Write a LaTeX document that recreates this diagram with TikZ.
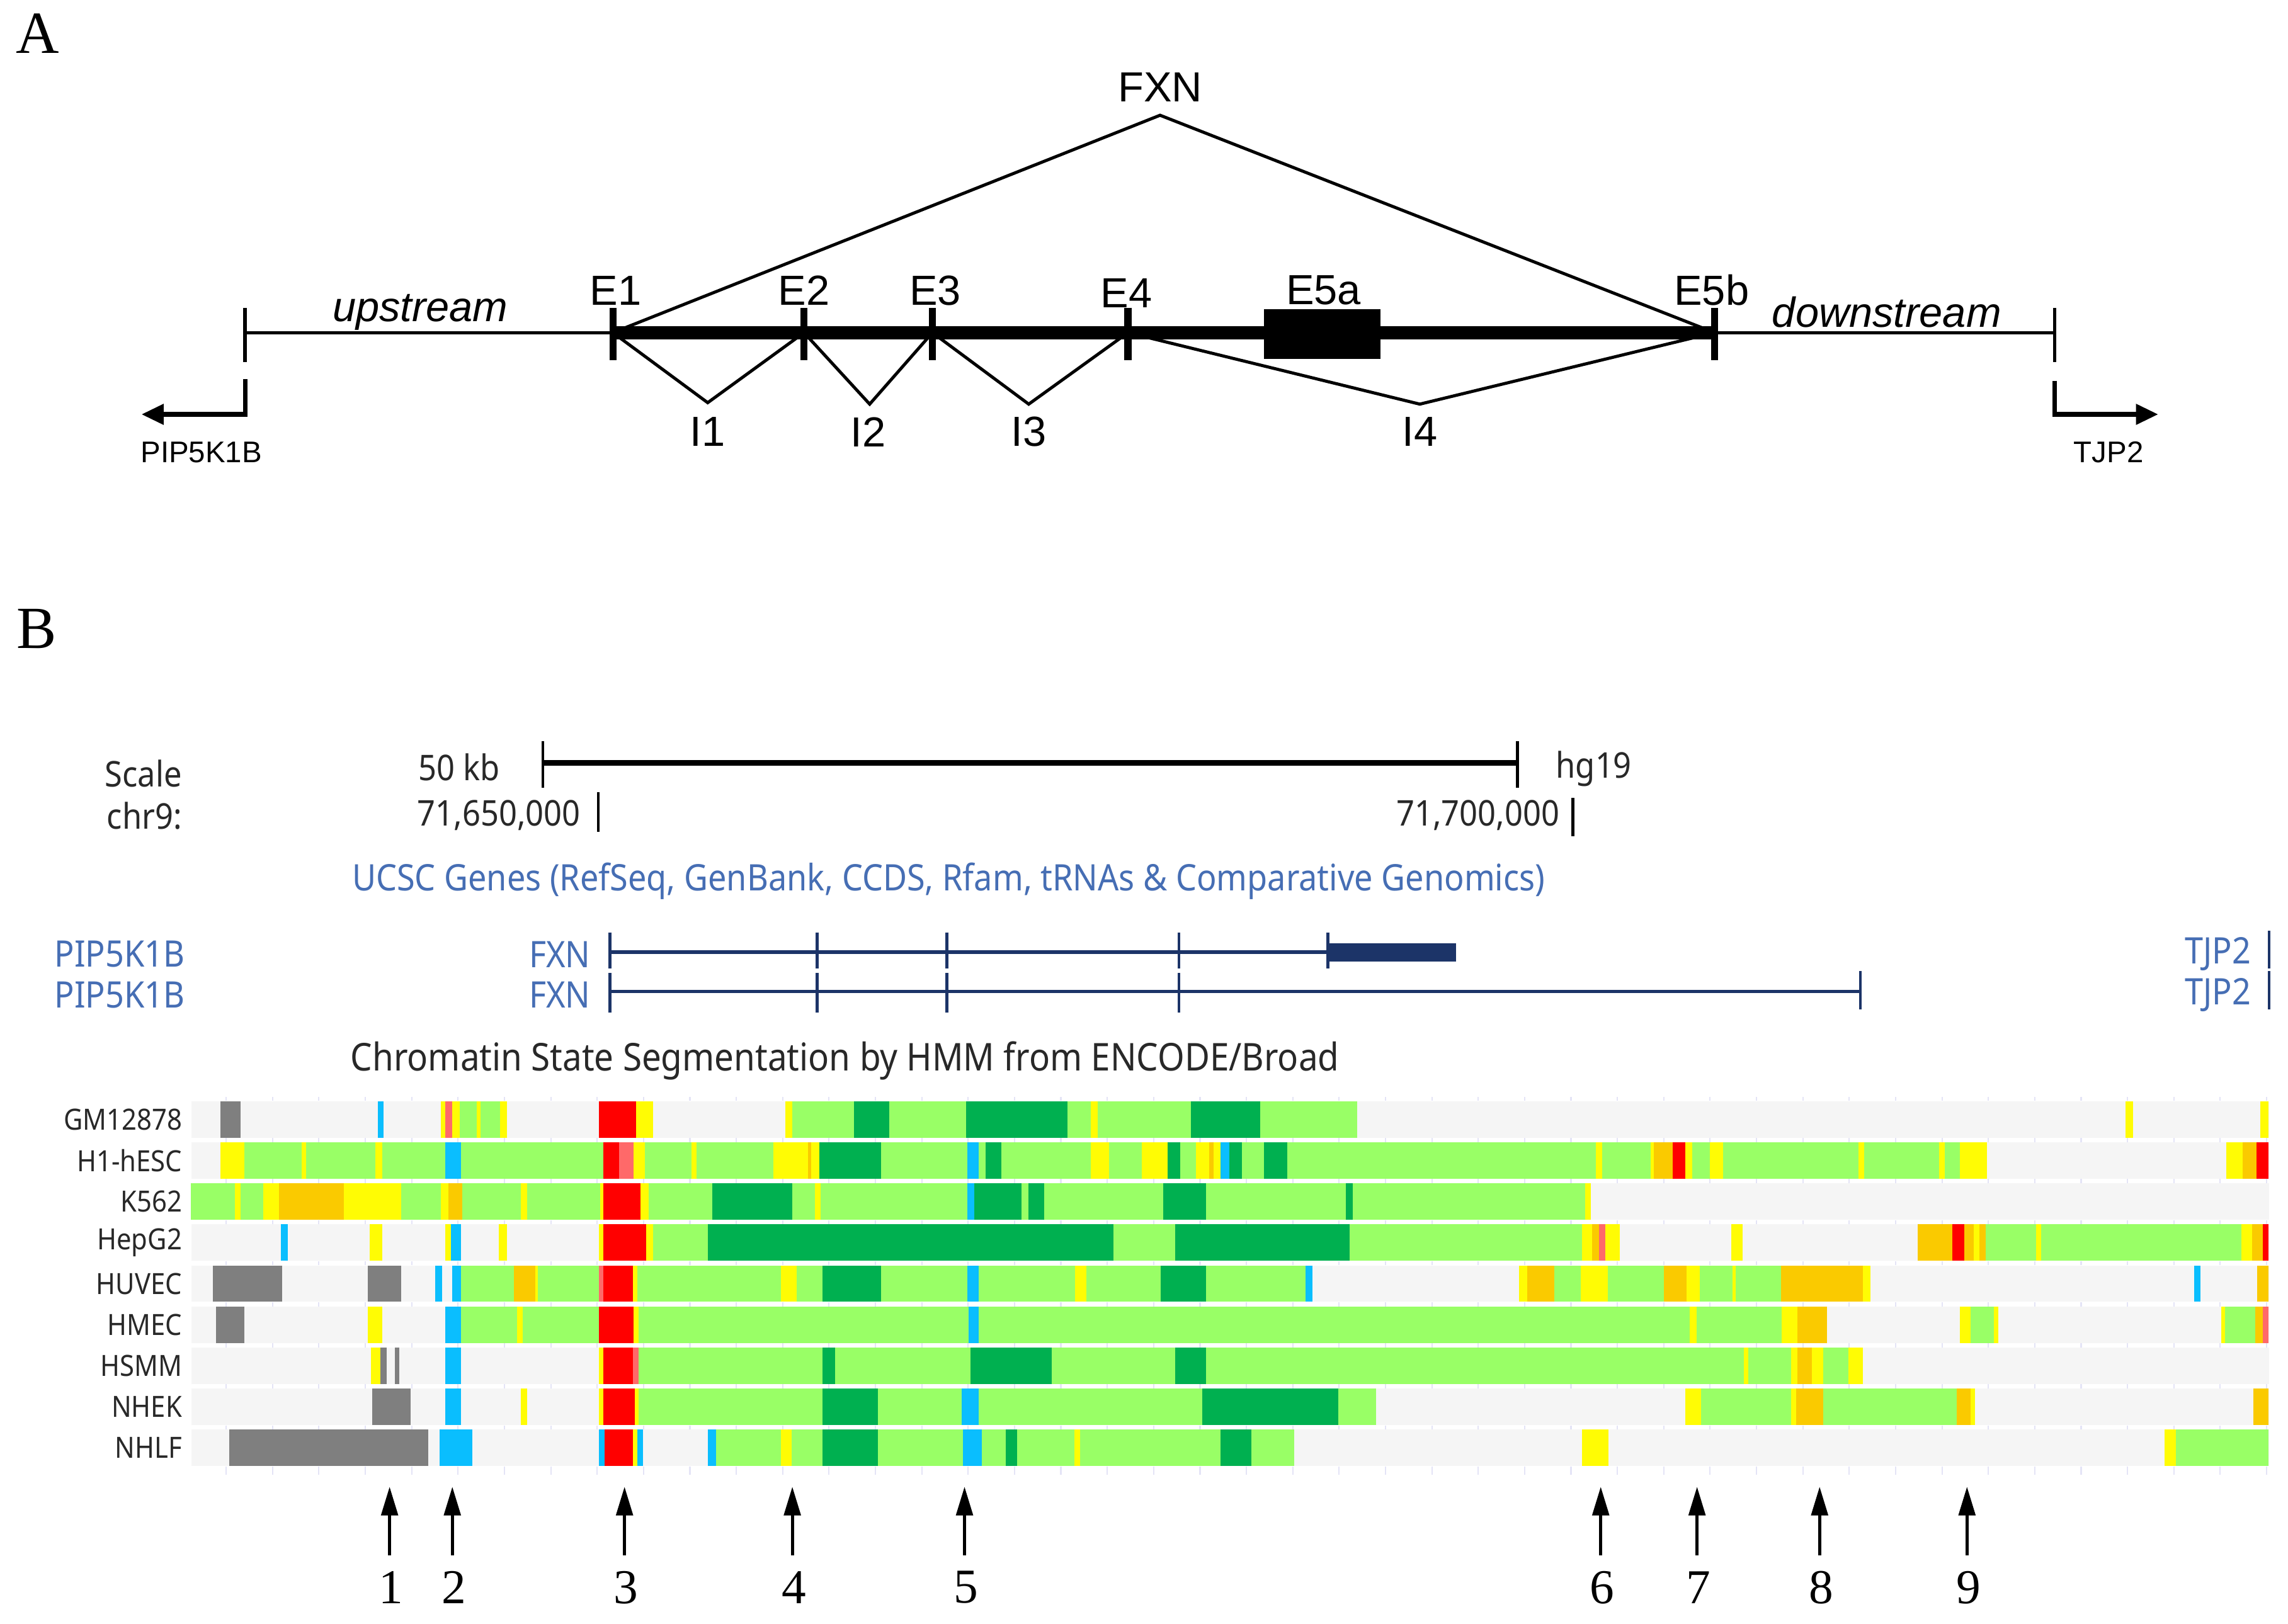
\documentclass[tikz,border=0pt]{standalone}
\usepackage{fontspec}
\setmainfont{Liberation Serif}
\newfontfamily\arialf{Liberation Sans}
\newfontfamily\ucscf{Noto Sans}[FakeStretch=0.9]
\usetikzlibrary{arrows.meta}
\definecolor{bgc}{RGB}{245,245,245}
\definecolor{rep}{RGB}{127,127,127}
\definecolor{wtx}{RGB}{153,255,102}
\definecolor{stx}{RGB}{0,176,80}
\definecolor{wen}{RGB}{255,252,4}
\definecolor{sen}{RGB}{250,202,0}
\definecolor{apr}{RGB}{255,0,0}
\definecolor{wpr}{RGB}{255,105,105}
\definecolor{ins}{RGB}{10,190,254}
\definecolor{ucblue}{RGB}{70,110,180}
\definecolor{navy}{RGB}{28,52,104}
\definecolor{txtg}{RGB}{40,40,40}
\definecolor{tickc}{RGB}{228,228,246}
\newcommand\trackrow[2]{%
  \foreach \a/\b/\c in {#2} {\fill[fill=\c] (\a,{754.7+28.15*#1}) rectangle (\b,{779.7+28.15*#1});}%
}
\begin{document}
\begin{tikzpicture}[x=0.02317cm,y=-0.02317cm,
  panel/.style={font=\fontsize{27pt}{30pt}\selectfont, inner sep=0pt},
  lblA/.style={font=\arialf\fontsize{19pt}{22pt}\selectfont, inner sep=0pt},
  lbliA/.style={font=\arialf\itshape\fontsize{19pt}{22pt}\selectfont, inner sep=0pt},
  smallA/.style={font=\arialf\fontsize{13.5pt}{16pt}\selectfont, inner sep=0pt},
  thinline/.style={line width=1.4pt},
  thickline/.style={line width=5.9pt},
  exontick/.style={line width=3.2pt},
  endtick/.style={line width=1.6pt},
  tri/.style={line width=1.4pt, line join=miter},
  bent/.style={line width=2pt, -{Triangle[length=10pt,width=9pt]}},
  ub/.style={font=\ucscf\fontsize{16pt}{19pt}\selectfont, inner sep=0pt, text=txtg},
  ubb/.style={font=\ucscf\fontsize{16.5pt}{19pt}\selectfont, inner sep=0pt},
  ttl/.style={font=\ucscf\fontsize{17.3pt}{20pt}\selectfont, inner sep=0pt},
  cell/.style={font=\ucscf\fontsize{13.2pt}{16pt}\selectfont, inner sep=0pt, text=txtg, anchor=east},
  gname/.style={font=\ucscf\fontsize{16.5pt}{19pt}\selectfont, inner sep=0pt, text=ucblue, anchor=east},
  geneline/.style={draw=navy, line width=1.6pt},
  genetick/.style={draw=navy, line width=1.3pt},
  scaleline/.style={line width=1.3pt, draw=black},
  num/.style={font=\fontsize{22pt}{26pt}\selectfont, inner sep=0pt},
  marker/.style={line width=1.4pt, -{Triangle[length=13pt,width=7.5pt]}}
]
\useasboundingbox (0,0) rectangle (1568,1113);
\fill[white] (0,0) rectangle (1568,1113);

%%%%%%%%%%%% Panel A
\node[panel] (labA) at (26,23) {A};
\coordinate (L) at (168,228);
\coordinate (R) at (1408,228);
\coordinate (x1) at (420,228);
\coordinate (x2) at (551,228);
\coordinate (x3) at (639,228);
\coordinate (x4) at (773,228);
\coordinate (x5) at (1175,228);
\coordinate (apex) at (795,79);
\coordinate (v1) at (485,276);
\coordinate (v2) at (596,277);
\coordinate (v3) at (705,277);
\coordinate (v4) at (973,277);
\draw[thinline] (L) -- (R);
\draw[thickline] (x1) -- (x5);
\draw[endtick] (168,211) -- (168,248);
\draw[endtick] (1408,211) -- (1408,248);
\foreach \xx in {420,551,639,773,1175} \draw[exontick] (\xx,211) -- (\xx,247);
\fill (866,212) rectangle (946,246);
\draw[tri] (x1) -- (apex) -- (x5);
\draw[tri] (x1) -- (v1) -- (x2);
\draw[tri] (x2) -- (v2) -- (x3);
\draw[tri] (x3) -- (v3) -- (x4);
\draw[tri] (x4) -- (v4) -- (x5);
\coordinate (pl0) at (168,260);
\coordinate (pl1) at (168,284);
\coordinate (pl2) at (97,284);
\coordinate (pr0) at (1408,261);
\coordinate (pr1) at (1408,284);
\coordinate (pr2) at (1479,284);
\draw[bent] (pl0) -- (pl1) -- (pl2);
\draw[bent] (pr0) -- (pr1) -- (pr2);
\node[lblA] (fxnA) at (795,60) {FXN};
\node[lblA] (e1) at (422,199) {E1};
\node[lblA] (e2) at (551,199) {E2};
\node[lblA] (e3) at (641,199) {E3};
\node[lblA] (e4) at (772,201) {E4};
\node[lblA] (e5a) at (907,199) {E5a};
\node[lblA] (e5b) at (1173,199) {E5b};
\node[lbliA] (up) at (288,214) {upstream};
\node[lbliA] (down) at (1293,214) {downstream};
\node[lblA] (i1) at (485,296) {I1};
\node[lblA] (i2) at (595,296) {I2};
\node[lblA] (i3) at (705,296) {I3};
\node[lblA] (i4) at (973,296) {I4};
\node[smallA] (pipA) at (138,310) {PIP5K1B};
\node[smallA] (tjpA) at (1445,310) {TJP2};

%%%%%%%%%%%% Panel B
\node[panel] (labB) at (25,431) {B};
% scale
\node[ub, anchor=east] (scl) at (125,530) {Scale};
\node[ub, anchor=east] (chr) at (125,559) {chr9:};
\node[ub, anchor=east] (kb) at (343,526) {50 kb};
\node[ub, anchor=west] (hg) at (1066,527) {hg19};
\node[ub, anchor=east] (c1) at (398,559) {71,650,000};
\node[ub, anchor=east] (c2) at (1069,559) {71,700,000};
\coordinate (sb1) at (372,523);
\coordinate (sb2) at (1040,523);
\draw[line width=2.6pt] (sb1) -- (sb2);
\draw[scaleline] (372,508) -- (372,540);
\draw[scaleline] (1040,508) -- (1040,540);
\draw[scaleline] (410,543) -- (410,570);
\draw[scaleline] (1078,547) -- (1078,573);
% genes
\node[ubb, text=ucblue, anchor=west] (ucsc) at (241,604) {UCSC Genes (RefSeq, GenBank, CCDS, Rfam, tRNAs \& Comparative Genomics)};
\node[gname] (pip1) at (127,654) {PIP5K1B};
\node[gname] (pip2) at (127,682) {PIP5K1B};
\node[gname] (fxn1) at (405,654) {FXN};
\node[gname] (fxn2) at (405,682) {FXN};
\node[gname] (tjp1) at (1543,654) {TJP2};
\node[gname] (tjp2) at (1543,682) {TJP2};
\coordinate (g1s) at (418,652.5);
\coordinate (g1e) at (910,652.5);
\coordinate (g2s) at (418,679.6);
\coordinate (g2e) at (1275,679.6);
\draw[geneline] (g1s) -- (g1e);
\draw[geneline] (g2s) -- (g2e);
\foreach \xx in {418,560,649,808,910} \draw[genetick] (\xx,639) -- (\xx,664);
\foreach \xx in {418,560,649,808} \draw[genetick] (\xx,667) -- (\xx,694);
\draw[genetick] (1275,665.5) -- (1275,692);
\draw[genetick] (1555,638) -- (1555,664);
\draw[genetick] (1555,665.5) -- (1555,692);
\fill[navy] (910,646.5) rectangle (998,659);
% chromatin
\node[ttl, text=txtg, anchor=west] (hmm) at (240,727) {Chromatin State Segmentation by HMM from ENCODE/Broad};
\foreach \nm [count=\i from 0] in {GM12878,H1-hESC,K562,HepG2,HUVEC,HMEC,HSMM,NHEK,NHLF}
  \node[cell] (cell\i) at (125,{767.2+28.15*\i}) {\nm};
\foreach \i in {0,...,8} \fill[bgc] (131,{754.7+28.15*\i}) rectangle (1555,{779.7+28.15*\i});
\foreach \g in {0,...,9} \foreach \k in {0,...,44}
  \draw[tickc, line width=0.6pt] ({155+31.78*\k},{751.8+28.15*\g}) -- ++(0,2.8);
\foreach \k in {0,...,44}
  \draw[tickc, line width=0.6pt] ({155+31.78*\k},{1007}) -- ++(0,4);

\trackrow{0}{151.1/165/rep, 258.9/262.8/ins, 302.1/305.2/wen, 305.2/310.1/wpr, 310.1/315.2/wen, 315.2/326.7/wtx, 326.7/329.1/wen, 329.1/342.9/wtx, 342.9/347.5/wen, 410.5/435.9/apr, 435.9/447.5/wen, 538.4/543/wen, 543/585.4/wtx, 585.4/609.3/stx, 609.3/662.2/wtx, 662.2/731.6/stx, 731.6/747.7/wtx, 747.7/752.4/wen, 752.4/816.3/wtx, 816.3/863.8/stx, 863.8/930.1/wtx, 1456.8/1462/wen, 1549.2/1554.8/wen}

\trackrow{1}{151.1/167.3/wen, 167.3/206.6/wtx, 206.6/209.6/wen, 209.6/257.4/wtx, 257.4/262/wen, 262/305.2/wtx, 305.2/316/ins, 316/413.6/wtx, 413.6/424.4/apr, 424.4/434.4/wpr, 434.4/442.1/wen, 442.1/473.7/wtx, 473.7/477.5/wen, 477.5/529.9/wtx, 529.9/553.8/wen, 553.8/556.1/sen, 556.1/561.5/wen, 561.5/603.9/stx, 603.9/663/wtx, 663/670.7/ins, 670.7/675.3/wtx, 675.3/686.1/stx, 686.1/747.7/wtx, 747.7/760.1/wen, 760.1/782.4/wtx, 782.4/800.1/wen, 800.1/808.6/stx, 808.6/819.4/wtx, 819.4/828.6/wen, 828.6/831.7/sen, 831.7/836.3/wen, 836.3/842.5/ins, 842.5/851/stx, 851/866.2/wtx, 866.2/882.3/stx, 882.3/1093.5/wtx, 1093.5/1097.8/wen, 1097.8/1131/wtx, 1131/1133.3/wen, 1133.3/1146.4/sen, 1146.4/1154.9/apr, 1154.9/1159.5/wen, 1159.5/1171.8/wtx, 1171.8/1181/wen, 1181/1273.5/wtx, 1273.5/1277.4/wen, 1277.4/1329/wtx, 1329/1332.8/wen, 1332.8/1343.1/wtx, 1343.1/1361.5/wen, 1525.8/1536.8/wen, 1536.8/1546.3/sen, 1546.3/1554.8/apr}

\trackrow{2}{130.7/161.1/wtx, 161.1/165/wen, 165/180.4/wtx, 180.4/191.1/wen, 191.1/235.8/sen, 235.8/275.1/wen, 275.1/302.1/wtx, 302.1/307.5/wen, 307.5/316.7/sen, 316.7/356.8/wtx, 356.8/361.4/wen, 361.4/411.3/wtx, 411.3/413.6/wen, 413.6/439/apr, 439/444.4/wen, 444.4/488.3/wtx, 488.3/543/stx, 543/558.4/wtx, 558.4/562.3/wen, 562.3/663/wtx, 663/667.6/ins, 667.6/700/stx, 700/704.6/wtx, 704.6/715.4/stx, 715.4/797/wtx, 797/826.3/stx, 826.3/922.4/wtx, 922.4/927/stx, 927/1086.5/wtx, 1086.5/1090.4/wen}

\trackrow{3}{192.7/197.3/ins, 253.5/262/wen, 305.2/309/wen, 309/316/ins, 341.9/347.5/wen, 410.5/413.6/wen, 413.6/442.9/apr, 442.9/447.5/wen, 447.5/485.2/wtx, 485.2/763.1/stx, 763.1/805.5/wtx, 805.5/924.7/stx, 924.7/1084.2/wtx, 1084.2/1091/wen, 1091/1096/sen, 1096/1100/wpr, 1100/1110/wen, 1186.4/1194.2/wen, 1314.4/1338/sen, 1338/1346/apr, 1346/1352.7/sen, 1352.7/1356.3/wen, 1356.3/1360.7/sen, 1360.7/1395.2/wtx, 1395.2/1398.9/wen, 1398.9/1536/wtx, 1536/1543.4/wen, 1543.4/1550.7/sen, 1550.7/1554.8/apr}

\trackrow{4}{145.7/193.4/rep, 252/275.1/rep, 298.2/302.9/ins, 309.8/316/ins, 316/352.2/wtx, 352.2/366.8/sen, 366.8/368.5/wen, 368.5/410.5/wtx, 410.5/413.6/wpr, 413.6/433.6/apr, 433.6/436.7/wen, 436.7/535.3/wtx, 535.3/546.1/wen, 546.1/563.8/wtx, 563.8/603.9/stx, 603.9/663/wtx, 663/670.7/ins, 670.7/736.9/wtx, 736.9/744.7/wen, 744.7/795.5/wtx, 795.5/826.3/stx, 826.3/894.7/wtx, 894.7/899.3/ins, 1041/1046.5/wen, 1046.5/1065/sen, 1065/1083.4/wtx, 1083.4/1101.7/wen, 1101.7/1140.2/wtx, 1140.2/1155.6/sen, 1155.6/1164.9/wen, 1164.9/1187.2/wtx, 1187.2/1189.5/wen, 1189.5/1220.4/wtx, 1220.4/1276.6/sen, 1276.6/1282/wen, 1503.8/1508.2/ins, 1547/1554.8/sen}

\trackrow{5}{148/167.3/rep, 252/262/wen, 305.2/316/ins, 316/354.5/wtx, 354.5/358.3/wen, 358.3/410.5/wtx, 410.5/434.4/apr, 434.4/437.5/wen, 437.5/663.8/wtx, 663.8/670.7/ins, 670.7/1158/wtx, 1158/1162.6/wen, 1162.6/1221.1/wtx, 1221.1/1231.9/wen, 1231.9/1252/sen, 1343.1/1350.5/wen, 1350.5/1366.6/wtx, 1366.6/1369.5/wen, 1522.1/1525/wen, 1525/1545.6/wtx, 1545.6/1550.7/sen, 1550.7/1554.8/wpr}

\trackrow{6}{254.3/260.5/wen, 260.5/264.8/rep, 270.5/273.6/rep, 305.2/316/ins, 410.5/413.6/wen, 413.6/433.6/apr, 433.6/437.5/wpr, 437.5/563.8/wtx, 563.8/572.3/stx, 572.3/665.3/wtx, 665.3/720.8/stx, 720.8/805.5/wtx, 805.5/826.3/stx, 826.3/1194.9/wtx, 1194.9/1198/wen, 1198/1227.3/wtx, 1227.3/1231.9/wen, 1231.9/1241.9/sen, 1241.9/1249.6/wen, 1249.6/1266.6/wtx, 1266.6/1276.6/wen}

\trackrow{7}{255.1/281.3/rep, 305.2/316/ins, 356.8/361.4/wen, 410.5/413.6/wen, 413.6/435.1/apr, 435.1/437.5/wen, 437.5/563.8/wtx, 563.8/601.6/stx, 601.6/659.1/wtx, 659.1/670.7/ins, 670.7/824/wtx, 824/917/stx, 917/943.2/wtx, 1154.9/1165.6/wen, 1165.6/1227.3/wtx, 1227.3/1231.1/wen, 1231.1/1249.6/sen, 1249.6/1341/wtx, 1341/1350.5/sen, 1350.5/1353.4/wen, 1544.1/1554.8/sen}

\trackrow{8}{157.2/293.6/rep, 301.3/323.7/ins, 410.5/414.4/ins, 414.4/433.6/apr, 433.6/436.7/wen, 436.7/440.5/ins, 485.2/490.6/ins, 490.6/535.3/wtx, 535.3/542.3/wen, 542.3/563.8/wtx, 563.8/601.6/stx, 601.6/659.9/wtx, 659.9/673/ins, 673/689.2/wtx, 689.2/696.9/stx, 696.9/736.2/wtx, 736.2/740/wen, 740/836.3/wtx, 836.3/857.7/stx, 857.7/887/wtx, 1084.2/1102.5/wen, 1483.2/1491.3/wen, 1491.3/1554.8/wtx}

% markers
\foreach \xx/\lab [count=\j] in {267/1,310/2,428/3,543/4,661/5,1097/6,1163/7,1247/8,1348/9} {
  \coordinate (mb\j) at (\xx,1066);
  \coordinate (mt\j) at (\xx,1019);
  \draw[marker] (mb\j) -- (mt\j);
  \node[num] (mk\j) at (\xx+1,1088) {\lab};
}
\end{tikzpicture}
\end{document}
